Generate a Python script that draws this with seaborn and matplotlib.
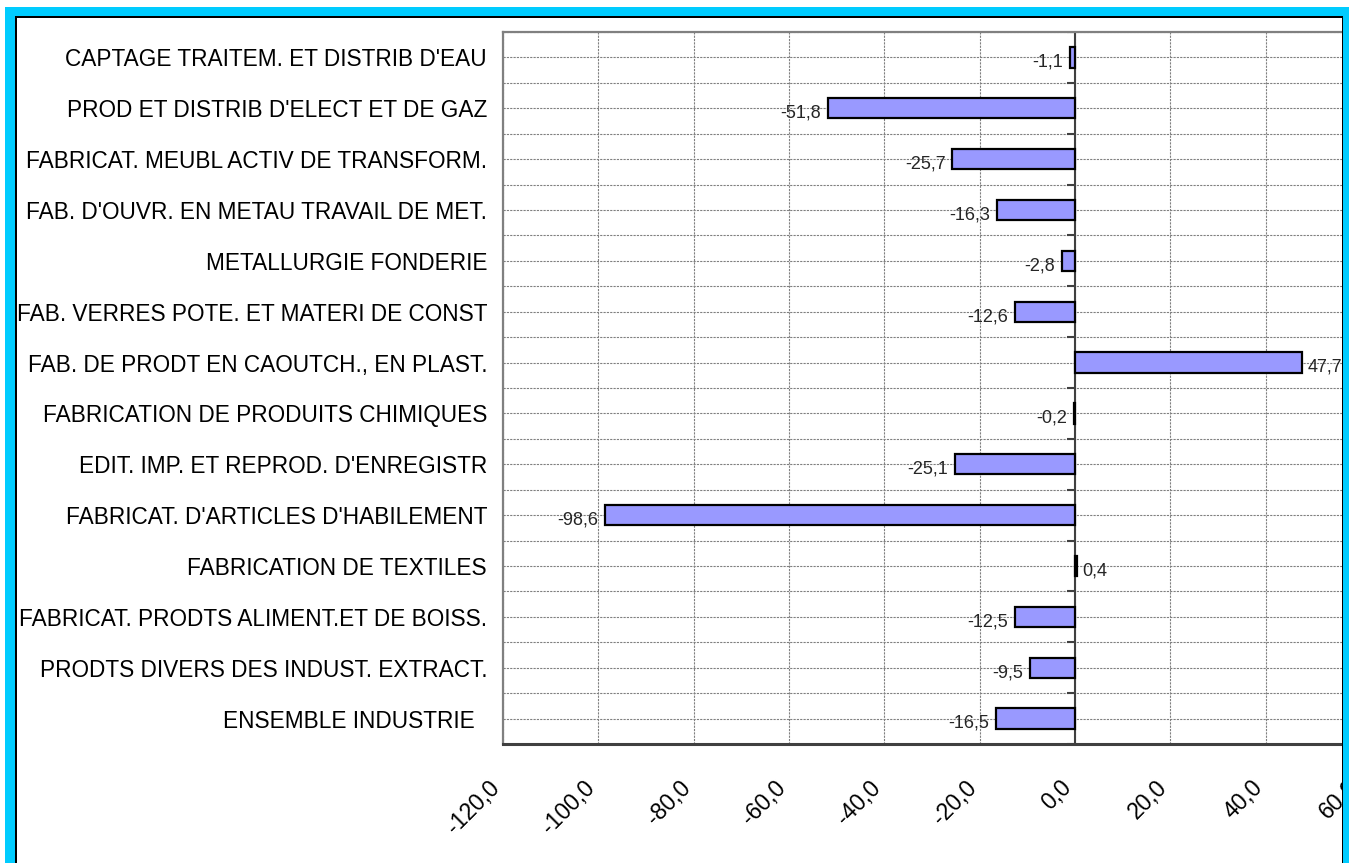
"""
Variation de l'indice de production industrielle par branche
Barres horizontales, style Excel
"""

import matplotlib
matplotlib.use("Agg")
import matplotlib.pyplot as plt
import matplotlib.transforms as mtransforms
from matplotlib.patches import Rectangle
import seaborn as sns

# Donnees (de haut en bas)
branches = [
    "CAPTAGE TRAITEM. ET DISTRIB D'EAU",
    "PROD ET DISTRIB D'ELECT ET DE GAZ",
    "FABRICAT. MEUBL ACTIV DE TRANSFORM.",
    "FAB. D'OUVR. EN METAU TRAVAIL DE MET.",
    "METALLURGIE FONDERIE",
    "FAB. VERRES POTE. ET MATERI DE CONST",
    "FAB. DE PRODT EN CAOUTCH., EN PLAST.",
    "FABRICATION DE PRODUITS CHIMIQUES",
    "EDIT. IMP. ET REPROD. D'ENREGISTR",
    "FABRICAT. D'ARTICLES D'HABILEMENT",
    "FABRICATION DE TEXTILES",
    "FABRICAT. PRODTS ALIMENT.ET DE BOISS.",
    "PRODTS DIVERS DES INDUST. EXTRACT.",
    "ENSEMBLE INDUSTRIE  ",
]
variations = [-1.1, -51.8, -25.7, -16.3, -2.8, -12.6, 47.7,
              -0.2, -25.1, -98.6, 0.4, -12.5, -9.5, -16.5]
x_ticks = [-120, -100, -80, -60, -40, -20, 0, 20, 40, 60]

BAR_COLOR = "#9999FF"
CYAN = "#00CCFF"
GRID = "#808080"

sns.set_style("white")
plt.rcParams["font.family"] = ["Liberation Sans", "DejaVu Sans"]

W, H = 1349, 863
fig = plt.figure(figsize=(W / 100, H / 100), dpi=100)
fig.patch.set_facecolor("white")

# zone de trace (depasse a droite, comme la capture d'origine)
left, right, top, bottom = 503, 1361, 32, 744
ax = fig.add_axes([left / W, 1 - bottom / H, (right - left) / W, (bottom - top) / H])

sns.barplot(x=variations, y=branches, orient="h", color=BAR_COLOR,
            saturation=1, edgecolor="black", linewidth=1.6, width=0.4,
            ax=ax, zorder=3)

ax.set_xlim(-120, 60)
ax.set_ylim(len(branches) - 0.5, -0.5)
ax.set_xticks(x_ticks)
ax.set_xticklabels([f"{t:.1f}".replace(".", ",") for t in x_ticks],
                   rotation=45, ha="right", va="top", rotation_mode="anchor",
                   fontsize=16.5)
ax.set_xlabel("")
ax.set_ylabel("")

# grille pointillee : lignes au centre et aux limites des categories
bounds = [i + 0.5 for i in range(-1, len(branches))]
ax.set_yticks(bounds, minor=True)
ax.grid(axis="x", which="major", color=GRID, linestyle=(0, (2, 1)), linewidth=0.8, zorder=0)
ax.grid(axis="y", which="both", color=GRID, linestyle=(0, (2, 1)), linewidth=0.8, zorder=0)
ax.set_axisbelow(True)

ax.tick_params(axis="y", which="both", length=0, pad=11.5, labelsize=16.3, labelcolor="black")
ax.tick_params(axis="x", which="major", direction="out", length=5, width=1.2,
               color="#404040", pad=18, labelcolor="black")

for lbl in ax.get_xticklabels():
    lbl.set_transform(lbl.get_transform() +
                      mtransforms.ScaledTranslation(-0.15, 0, fig.dpi_scale_trans))

for side in ["left", "top", "right"]:
    ax.spines[side].set_color(GRID)
    ax.spines[side].set_linewidth(1.6)
ax.spines["bottom"].set_color("#404040")
ax.spines["bottom"].set_linewidth(2.2)

# axe des categories en x = 0, avec graduations vers la gauche
ax.axvline(0, color="#404040", linewidth=1.5, zorder=2)
ax.hlines(bounds, -1.7, 0, color="#404040", linewidth=1.5, zorder=2)

# etiquettes de valeurs
for i, v in enumerate(variations):
    txt = f"{v:.1f}".replace(".", ",")
    if v < 0:
        ax.annotate(txt, xy=(v, i), xytext=(-5, -3.5), textcoords="offset points",
                    ha="right", va="center", fontsize=13, zorder=4)
    else:
        ax.annotate(txt, xy=(v, i), xytext=(4, -3.5), textcoords="offset points",
                    ha="left", va="center", fontsize=13, zorder=4)

# cadre cyan autour du graphique
def px_rect(x0, y0, x1, y1, color):
    fig.add_artist(Rectangle((x0 / W, 1 - y1 / H), (x1 - x0) / W, (y1 - y0) / H,
                             transform=fig.transFigure, facecolor=color,
                             edgecolor="none", zorder=20))

px_rect(5, 7, 15, H, CYAN)
px_rect(5, 7, W, 16.5, CYAN)
px_rect(1343, 7, W, H, CYAN)
px_rect(15, 16.5, 16.5, H, "black")
px_rect(15, 16.5, 1343, 18, "black")
px_rect(1341.5, 16.5, 1343, H, "black")

fig.savefig("out.png", dpi=100)
print("Saved: out.png")
